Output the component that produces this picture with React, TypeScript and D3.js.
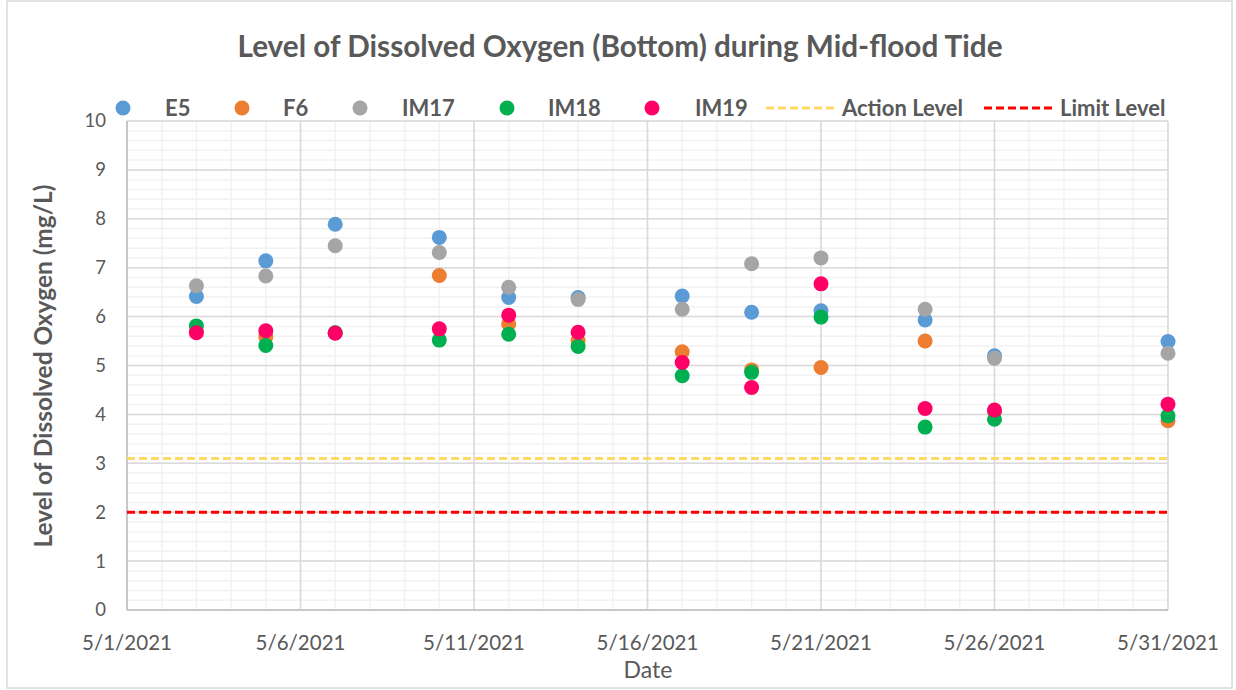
import React from "react";
import * as d3 from "d3";

// sampling dates and readings (mg/L)
const dates = [
  "2021-05-03", "2021-05-05", "2021-05-07", "2021-05-10", "2021-05-12", "2021-05-14",
  "2021-05-17", "2021-05-19", "2021-05-21", "2021-05-24", "2021-05-26", "2021-05-31",
];
const e5 = [6.41, 7.14, 7.89, 7.62, 6.39, 6.39, 6.42, 6.09, 6.12, 5.93, 5.2, 5.49];
const f6 = [5.7, 5.59, 5.67, 6.84, 5.85, 5.51, 5.28, 4.91, 4.96, 5.5, 4.06, 3.87];
const im17 = [6.63, 6.83, 7.45, 7.31, 6.6, 6.35, 6.15, 7.08, 7.2, 6.15, 5.15, 5.25];
const im18 = [5.81, 5.41, 5.67, 5.52, 5.64, 5.39, 4.79, 4.86, 5.99, 3.74, 3.9, 3.97];
const im19 = [5.67, 5.71, 5.66, 5.75, 6.03, 5.68, 5.06, 4.55, 6.67, 4.12, 4.09, 4.21];

const actionLevel = 3.1;
const limitLevel = 2;

const xTickLabels = ["5/1/2021", "5/6/2021", "5/11/2021", "5/16/2021", "5/21/2021", "5/26/2021", "5/31/2021"];
const yTicks = [0, 1, 2, 3, 4, 5, 6, 7, 8, 9, 10];

const series = [
  { name: "E5", values: e5, color: "#5B9BD5" },
  { name: "F6", values: f6, color: "#ED7D31" },
  { name: "IM17", values: im17, color: "#A5A5A5" },
  { name: "IM18", values: im18, color: "#00B050" },
  { name: "IM19", values: im19, color: "#FF0066" },
];

const parseMdy = d3.utcParse("%m/%d/%Y");
const parseIso = d3.utcParse("%Y-%m-%d");

export default function App() {
  const width = 1236;
  const height = 690;
  const font = "Lato, 'Open Sans', sans-serif";
  const textColor = "#595959";

  const x = d3
    .scaleUtc()
    .domain([parseIso("2021-05-01")!, parseIso("2021-05-31")!])
    .range([127, 1168]);
  const y = d3.scaleLinear().domain([0, 10]).range([610, 121]);

  const days = d3.utcDay.range(x.domain()[0], d3.utcDay.offset(x.domain()[1], 1));
  const minorY = d3.range(0, 10.001, 0.2);
  const xTicks = xTickLabels.map((s) => parseMdy(s)!);

  // legend layout: marker x, label x
  const legendY = 108;
  const legendMarks = [
    { mx: 123, tx: 165 },
    { mx: 242, tx: 283 },
    { mx: 360, tx: 402 },
    { mx: 507, tx: 548 },
    { mx: 652, tx: 695 },
  ];

  return (
    <svg
      width={width}
      height={height}
      style={{ position: "absolute", left: 0, top: 0, background: "#fff" }}
      fontFamily={font}
    >
      <rect x={7} y={1} width={1225} height={687} fill="#fff" stroke="#D9D9D9" strokeWidth={1.5} />

      <text
        x={620} y={57} textAnchor="middle" fontSize={29.5} fontWeight="bold" fill={textColor}
        textLength={765} lengthAdjust="spacingAndGlyphs"
      >
        Level of Dissolved Oxygen (Bottom) during Mid-flood Tide
      </text>

      {/* minor gridlines */}
      <g stroke="#F2F2F2" strokeWidth={1.5}>
        {minorY.map((v, i) => (
          <line key={"my" + i} x1={x.range()[0]} x2={x.range()[1]} y1={y(v)} y2={y(v)} />
        ))}
        {days.map((d, i) => (
          <line key={"mx" + i} x1={x(d)} x2={x(d)} y1={y(0)} y2={y(10)} />
        ))}
      </g>
      {/* major gridlines */}
      <g stroke="#D9D9D9" strokeWidth={1.5}>
        {yTicks.map((v) => (
          <line key={"gy" + v} x1={x.range()[0]} x2={x.range()[1]} y1={y(v)} y2={y(v)} />
        ))}
        {xTicks.map((d, i) => (
          <line key={"gx" + i} x1={x(d)} x2={x(d)} y1={y(0)} y2={y(10)} />
        ))}
      </g>
      <line x1={x.range()[0]} x2={x.range()[0]} y1={y(0)} y2={y(10)} stroke="#BFBFBF" strokeWidth={1.5} />
      <line x1={x.range()[0]} x2={x.range()[1]} y1={y(0)} y2={y(0)} stroke="#BFBFBF" strokeWidth={1.5} />

      {/* reference levels */}
      <line
        x1={x.range()[0]} x2={x.range()[1]} y1={y(actionLevel)} y2={y(actionLevel)}
        stroke="#FFD966" strokeWidth={3} strokeDasharray="8 4"
      />
      <line
        x1={x.range()[0]} x2={x.range()[1]} y1={y(limitLevel)} y2={y(limitLevel)}
        stroke="#FF0000" strokeWidth={3} strokeDasharray="8 4"
      />

      {/* axes labels */}
      {yTicks.map((v) => (
        <text key={"yt" + v} x={106} y={y(v)} dy="0.35em" textAnchor="end" fontSize={18.5} fill={textColor}>
          {v}
        </text>
      ))}
      {xTicks.map((d, i) => (
        <text key={"xt" + i} x={x(d)} y={650} textAnchor="middle" fontSize={20.5} fill={textColor}>
          {xTickLabels[i]}
        </text>
      ))}
      <text x={648} y={678} textAnchor="middle" fontSize={23} fill={textColor}>
        Date
      </text>
      <text
        transform={`translate(52,366) rotate(-90)`}
        textAnchor="middle"
        fontSize={24.5}
        fontWeight="bold"
        fill={textColor}
        textLength={363}
        lengthAdjust="spacingAndGlyphs"
      >
        Level of Dissolved Oxygen (mg/L)
      </text>

      {/* points */}
      {series.map((s) => (
        <g key={s.name} fill={s.color}>
          {s.values.map((v, i) => (
            <circle key={i} cx={x(parseIso(dates[i])!)} cy={y(v)} r={7.5} />
          ))}
        </g>
      ))}

      {/* legend */}
      <g fontSize={22} fontWeight="bold" fill={textColor}>
        {series.map((s, i) => (
          <g key={"lg" + s.name}>
            <circle cx={legendMarks[i].mx} cy={legendY} r={7.5} fill={s.color} />
            <text x={legendMarks[i].tx} y={legendY} dy="0.36em">
              {s.name}
            </text>
          </g>
        ))}
        <line x1={766} x2={836} y1={legendY} y2={legendY} stroke="#FFD966" strokeWidth={3} strokeDasharray="8 4" />
        <text x={842} y={legendY} dy="0.36em">Action Level</text>
        <line x1={984} x2={1054} y1={legendY} y2={legendY} stroke="#FF0000" strokeWidth={3} strokeDasharray="8 4" />
        <text x={1060} y={legendY} dy="0.36em">Limit Level</text>
      </g>
    </svg>
  );
}
